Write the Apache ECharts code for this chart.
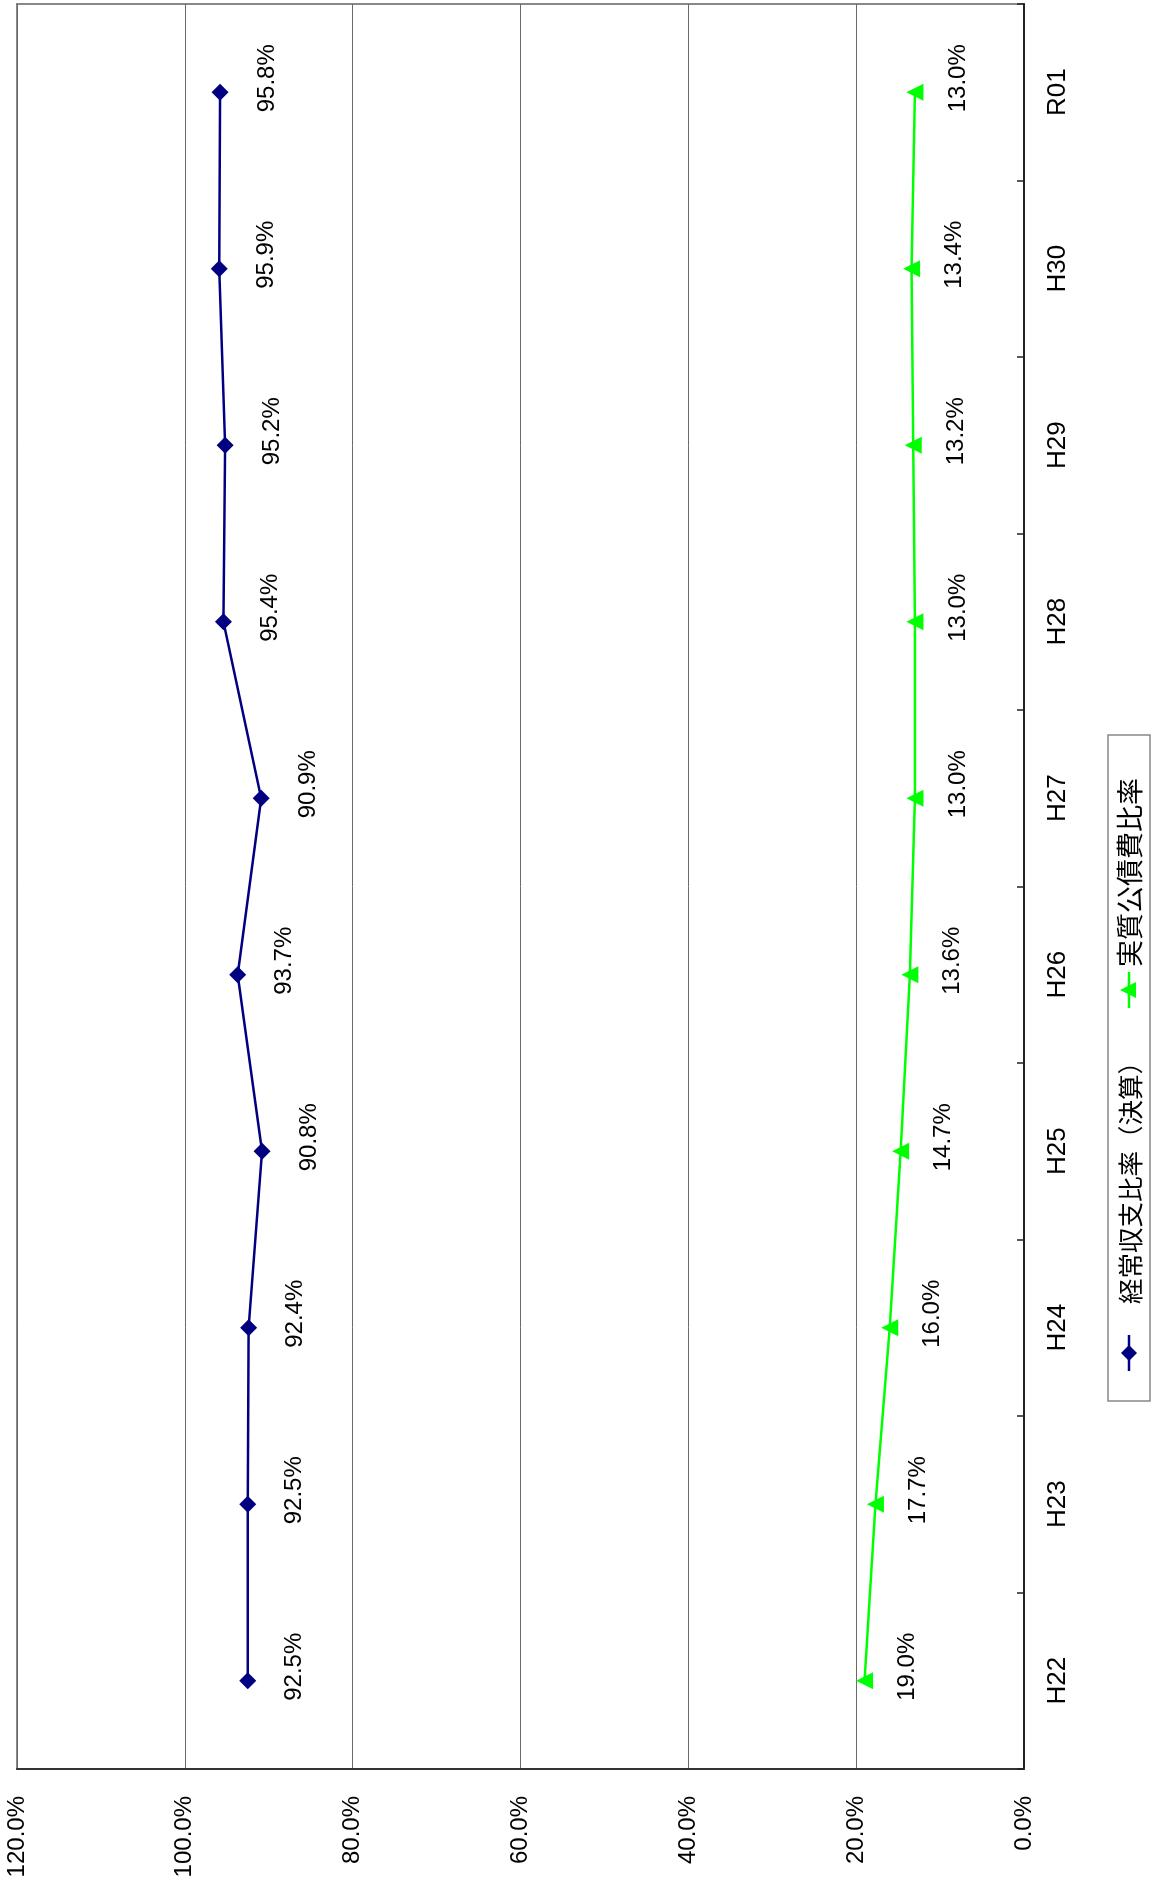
<!DOCTYPE html>
<html><head><meta charset="utf-8">
<script src="https://cdn.jsdelivr.net/npm/echarts@6/dist/echarts.min.js"></script>
<style>html,body{margin:0;padding:0;background:#fff}#c{width:1154px;height:1879px}</style>
</head><body><div id="c"></div>
<script>
const categories = ['H22','H23','H24','H25','H26','H27','H28','H29','H30','R01'];
const ordinaryBalanceRatio = [92.5,92.5,92.4,90.8,93.7,90.9,95.4,95.2,95.9,95.8];
const realDebtServiceRatio = [19.0,17.7,16.0,14.7,13.6,13.0,13.0,13.2,13.4,13.0];
const valueAxisMin = 0, valueAxisMax = 120, valueAxisStep = 20;
const seriesNames = ['経常収支比率（決算）','実質公債費比率'];

const FONT = '"Liberation Sans Narrow","Arial Narrow","Liberation Sans",Arial,sans-serif';
const JFONT = '"Noto Sans CJK JP","Noto Sans CJK SC",sans-serif';
const FS = 24;
const SYM = 17;
const fmt = v => v.toFixed(1) + '%';

const chart = echarts.init(document.getElementById('c'), null, {renderer:'canvas'});
chart.setOption({
  animation: false,
  backgroundColor: '#fff',
  legend: {show: false},
  grid: {left: 17, right: 130, top: 4, bottom: 110, containLabel: false, outerBoundsMode: 'none',
         show: true, borderColor: '#888', borderWidth: 2, backgroundColor: '#fff'},
  xAxis: {
    type: 'value', min: valueAxisMin, max: valueAxisMax, interval: valueAxisStep, inverse: true, position: 'bottom',
    axisLine: {show: true, onZero: false, lineStyle: {color: '#333', width: 2}},
    axisTick: {show: false},
    splitLine: {show: true, lineStyle: {color: '#6a6a6a', width: 1}},
    axisLabel: {rotate: 90, margin: 27, fontSize: FS, color: '#000', fontFamily: FONT, formatter: fmt}
  },
  yAxis: {
    type: 'category', data: categories, position: 'right', boundaryGap: true,
    axisLine: {show: true, onZero: false, lineStyle: {color: '#222', width: 2}},
    axisTick: {show: true, inside: true, length: 7, lineStyle: {color: '#222', width: 1.5}},
    splitLine: {show: false},
    axisLabel: {rotate: 90, margin: 21, fontSize: FS + 2, color: '#000', fontFamily: FONT}
  },
  series: [
    {
      name: seriesNames[0], type: 'line', data: ordinaryBalanceRatio,
      symbol: 'diamond', symbolSize: SYM,
      lineStyle: {color: '#000080', width: 2.5}, itemStyle: {color: '#000080'},
      label: {show: true, position: [SYM/2 + 47, SYM/2 - 14], rotate: 90, align: 'center', verticalAlign: 'middle',
              fontSize: FS, fontFamily: FONT, color: '#000', formatter: p => fmt(p.value)}
    },
    {
      name: seriesNames[1], type: 'line', data: realDebtServiceRatio,
      symbol: 'triangle', symbolSize: SYM, symbolRotate: 90,
      lineStyle: {color: '#00ff00', width: 2.5}, itemStyle: {color: '#00ff00'},
      label: {show: true, position: [SYM/2 + 43, SYM/2 - 14], rotate: 90, align: 'center', verticalAlign: 'middle',
              fontSize: FS, fontFamily: FONT, color: '#000', formatter: p => fmt(p.value)}
    }
  ],
  graphic: [{
    type: 'group', x: 1129, y: 1068, rotation: Math.PI / 2, silent: true,
    children: [
      {type: 'rect', shape: {x: -333, y: -21, width: 666, height: 42}, style: {fill: '#fff', stroke: '#888', lineWidth: 1.5}},
      {type: 'line', shape: {x1: -303, y1: 0, x2: -267, y2: 0}, style: {stroke: '#000080', lineWidth: 2.5}},
      {type: 'polygon', shape: {points: [[-285,-8],[-277,0],[-285,8],[-293,0]]}, style: {fill: '#000080'}},
      {type: 'text', x: -236, y: 1, style: {text: seriesNames[0], fontSize: 25.5, fontFamily: JFONT, fill: '#000', verticalAlign: 'middle', textVerticalAlign: 'middle', align: 'left'}},
      {type: 'line', shape: {x1: 60, y1: 0, x2: 96, y2: 0}, style: {stroke: '#00ff00', lineWidth: 2.5}},
      {type: 'polygon', shape: {points: [[78,-9],[86,7],[70,7]]}, style: {fill: '#00ff00'}},
      {type: 'text', x: 101, y: 1, style: {text: seriesNames[1], fontSize: 27, fontFamily: JFONT, fill: '#000', verticalAlign: 'middle', textVerticalAlign: 'middle', align: 'left'}}
    ]
  }]
});
</script></body></html>
